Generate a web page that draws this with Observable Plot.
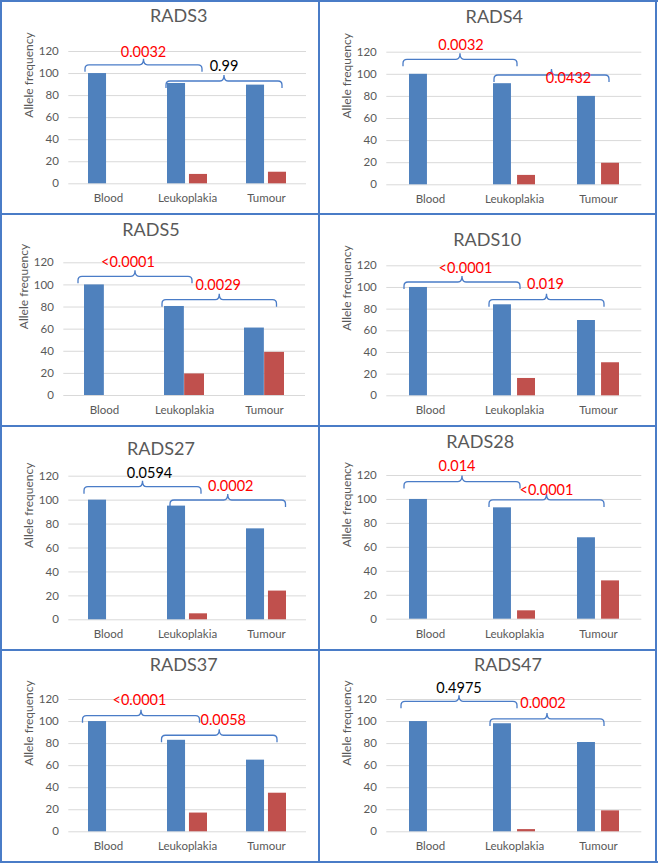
<!DOCTYPE html>
<html><head><meta charset="utf-8">
<script src="https://cdn.jsdelivr.net/npm/d3@7"></script>
<script src="https://cdn.jsdelivr.net/npm/@observablehq/plot@0.6"></script>
<style>
html,body{margin:0;padding:0;background:#fff;}
#root{position:relative;width:658px;height:865px;overflow:hidden;font-family:Lato,"Open Sans",sans-serif;}
.panel{position:absolute;}
.panel svg{position:absolute;left:0;top:0;overflow:visible;}
.title{position:absolute;transform:translate(-50%,-50%);font-size:18px;color:#595959;white-space:nowrap;line-height:1;font-family:Lato,sans-serif;}
.line{position:absolute;background:#4a7cc7;}
</style></head><body><div id="root"></div>
<script>
// ---- data ----
const titles = ["RADS3","RADS4","RADS5","RADS10","RADS27","RADS28","RADS37","RADS47"];
const categories = ["Blood","Leukoplakia","Tumour"];
const yTicks = [0,20,40,60,80,100,120];
const blueValues = [[100,91,89.5],[100,91.5,80],[100,80.5,61],[100,84,69.5],[100,95,76],[100,93,68],[100,83,65],[100,98,81]];
const redValues  = [[0,8.5,10.5],[0,8.5,19.5],[0,19.5,39],[0,16,30.5],[0,5,24],[0,7,32],[0,17,35],[0,2,19]];
const pBloodLeuk  = ["0.0032","0.0032","<0.0001","<0.0001","0.0594","0.014","<0.0001","0.4975"];
const pLeukTumour = ["0.99","0.0432","0.0029","0.019","0.0002","<0.0001","0.0058","0.0002"];
const yLabel = "Allele frequency";

// ---- layout (pixels) ----
const panelBoxes = [[0,0,319,214],[319,0,338,214],[0,214,319,212],[319,214,338,212],[0,426,319,223],[319,426,338,223],[0,649,319,213],[319,649,338,213]];
// frame: [left, right, y of 120, y of 0] in page px
const frames = [[68.3,306,51,183.3],[386.3,641.3,51.7,184.3],[63.3,305,262.3,395],[386.3,641.3,265.3,395.3],[68.3,306,475.7,619.3],[386.3,641.3,475,618.7],[68.3,306,699,831.3],[386.3,641.3,699,831.3]];
const titlePos = [[178.7,15],[494.3,16.3],[151,228.5],[487.2,238.5],[161,448.3],[480.2,440.8],[183.7,663.5],[508,664.3]];
const barGap = [4.3,5.6,0,5.6,4.3,5.6,4.3,5.6];
// bracket annotation: [level (data units), dxLeft px, dxRight px, label level (data units), label dx px]
const bracketA = [[107.5,-3,-5,119.1,0],[113.1,-6,-18,126.3,1],[107.3,-6,-12,120.5,-7],[104.6,-5,-15,118,3.5],[110.8,-4,-6,122.4,7],[114.5,-5,-15,127.3,-5],[104.9,-5.5,-7.5,119.1,-1.5],[117.9,-8,-18,130.3,0]];
const bracketB = [[92.8,-1,-4,106.4,0],[98.9,1,-10,96.7,17],[86.2,-2,-7.5,100.1,-1],[88.3,-4,-15,102.6,-1],[99.7,3,-0.5,111.9,3],[99.2,-4,-15,107.8,0],[87.1,-5.5,-9,100.9,4],[101.9,-3,-15,116.6,-4]];

const BLUE = "#4f81bd", RED = "#c0504d", GRID = "#d9d9d9", TEXT = "#595959", BRACE = "#4a7cc7";

function pColor(p) { return parseFloat(p.replace("<","")) < 0.05 ? "#ff0000" : "#000000"; }

function braceMark(specs) {
  return (index, scales, values, dimensions) => {
    const x = scales.x, y = scales.y;
    const bw = typeof x.bandwidth === "function" ? x.bandwidth() : (scales.scales && scales.scales.x ? scales.scales.x.bandwidth : 0);
    const g = d3.create("svg:g");
    const tip = 7, cusp = 6, r = 4;
    for (const s of specs) {
      const L = x(s.from) + s.dxL, R = x(s.to) + bw + s.dxR, C = (L + R) / 2, H = y(s.level);
      const d = `M${L},${H+tip} L${L},${H+r} Q${L},${H} ${L+r},${H} L${C-r},${H} Q${C},${H} ${C},${H-cusp} Q${C},${H} ${C+r},${H} L${R-r},${H} Q${R},${H} ${R},${H+r} L${R},${H+tip}`;
      g.append("path").attr("d", d).attr("fill", "none").attr("stroke", BRACE).attr("stroke-width", 1.3);
      g.append("text").attr("x", C + s.labelDx).attr("y", y(s.labelLevel)).attr("dy", "0.36em")
        .attr("text-anchor", "middle").attr("font-size", 14.5).attr("font-family", "Lato, sans-serif")
        .attr("fill", pColor(s.text)).text(s.text);
    }
    return g.node();
  };
}

const root = document.getElementById("root");

titles.forEach((title, i) => {
  const [bx, by, bw, bh] = panelBoxes[i];
  const [fl, fr, ytop, ybot] = frames[i];
  const panel = document.createElement("div");
  panel.className = "panel";
  Object.assign(panel.style, {left: bx + "px", top: by + "px", width: bw + "px", height: bh + "px"});

  const rows = categories.map((c, j) => ({category: c, blue: blueValues[i][j], red: redValues[i][j]}));
  const band = (fr - fl) / 3 * 0.5;
  const inset = band / 2 + barGap[i] / 2;

  const specs = [
    {from: categories[0], to: categories[1], level: bracketA[i][0], dxL: bracketA[i][1], dxR: bracketA[i][2], labelLevel: bracketA[i][3], labelDx: bracketA[i][4], text: pBloodLeuk[i]},
    {from: categories[1], to: categories[2], level: bracketB[i][0], dxL: bracketB[i][1], dxR: bracketB[i][2], labelLevel: bracketB[i][3], labelDx: bracketB[i][4], text: pLeukTumour[i]}
  ];

  const svg = Plot.plot({
    width: bw, height: bh,
    marginLeft: fl - bx, marginRight: bx + bw - fr,
    marginTop: ytop - by, marginBottom: by + bh - ybot,
    style: {fontFamily: "Lato, sans-serif", fontSize: "11.5px", color: TEXT, background: "transparent", overflow: "visible"},
    x: {domain: categories, paddingInner: 0.5, paddingOuter: 0.25, tickSize: 0, tickPadding: 10.5, label: null},
    y: {domain: [0, 120], ticks: yTicks, tickSize: 0, tickPadding: 10, label: null},
    marks: [
      Plot.ruleY(yTicks, {stroke: GRID, strokeWidth: 1}),
      Plot.barY(rows, {x: "category", y: "blue", fill: BLUE, insetLeft: 0, insetRight: inset}),
      Plot.barY(rows, {x: "category", y: "red", fill: RED, insetLeft: inset, insetRight: 0}),
      Plot.text([yLabel], {frameAnchor: "left", rotate: -90, dx: -40, fill: TEXT, fontSize: 12}),
      braceMark(specs)
    ]
  });
  panel.appendChild(svg);

  const t = document.createElement("div");
  t.className = "title";
  t.textContent = title;
  Object.assign(t.style, {left: (titlePos[i][0] - bx) + "px", top: (titlePos[i][1] - by) + "px"});
  panel.appendChild(t);
  root.appendChild(panel);
});

// panel borders
const lines = [[0,0,658,2],[0,861,658,2],[0,0,2,863],[655,0,2,863],[318,0,2,863],[0,213,657,2],[0,425,657,2],[0,649,657,2]];
for (const [x, y, w, h] of lines) {
  const d = document.createElement("div");
  d.className = "line";
  Object.assign(d.style, {left: x + "px", top: y + "px", width: w + "px", height: h + "px"});
  root.appendChild(d);
}
</script></body></html>
